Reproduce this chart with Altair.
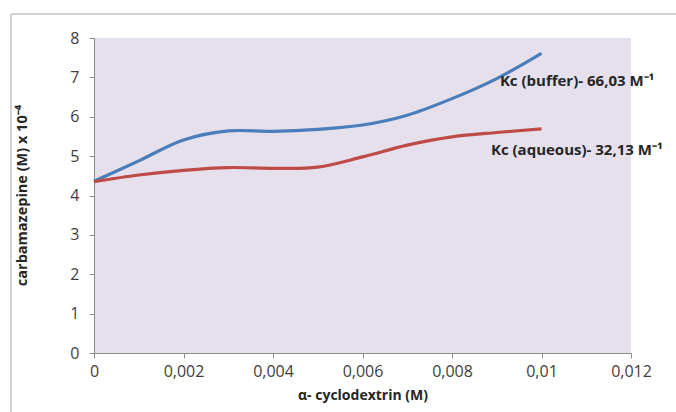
import altair as alt
import pandas as pd

# data
x_vals = [0, 0.001, 0.002, 0.003, 0.004, 0.005, 0.006, 0.007, 0.008, 0.009, 0.01]
buffer_vals = [4.36, 4.88, 5.41, 5.64, 5.63, 5.68, 5.79, 6.04, 6.46, 6.97, 7.61]
aqueous_vals = [4.35, 4.52, 4.64, 4.71, 4.69, 4.72, 4.98, 5.28, 5.49, 5.60, 5.69]
x_ticks = [0, 0.002, 0.004, 0.006, 0.008, 0.01, 0.012]
y_ticks = [0, 1, 2, 3, 4, 5, 6, 7, 8]
label_texts = ["Kc (buffer)- 66,03 M\u207b\u00b9", "Kc (aqueous)- 32,13 M\u207b\u00b9"]
label_x = [0.00907, 0.00887]
label_y = [6.9, 5.15]

series_names = ["buffer", "aqueous"]
colors = ["#4a7ebb", "#be4b48"]

rows = []
for xv, b, a in zip(x_vals, buffer_vals, aqueous_vals):
    rows.append({"x": xv, "y": b, "s": "buffer"})
    rows.append({"x": xv, "y": a, "s": "aqueous"})
df = pd.DataFrame(rows)
lab = pd.DataFrame({"x": label_x, "y": label_y, "t": label_texts})

FONT = "Open Sans"

xscale = alt.Scale(domain=[0, 0.012], nice=False, zero=False)
yscale = alt.Scale(domain=[0, 8], nice=False)

xaxis = alt.Axis(values=x_ticks, title="\u03b1- cyclodextrin (M)",
                 labelExpr="replace(format(datum.value, '~g'), '.', ',')",
                 labelFontSize=16, titleFontSize=14, labelFlush=False,
                 titleY=42, titleBaseline="middle")
yaxis = alt.Axis(values=y_ticks, title="carbamazepine (M) x 10\u207b\u2074",
                 labelFontSize=16, titleFontSize=14.5, labelFlush=False,
                 titleX=-72, titleY=157, titleAngle=-90,
                 titleAlign="center", titleBaseline="middle")

lines = alt.Chart(df).mark_line(strokeWidth=3.2, interpolate="catmull-rom").encode(
    x=alt.X("x:Q", scale=xscale, axis=xaxis),
    y=alt.Y("y:Q", scale=yscale, axis=yaxis),
    color=alt.Color("s:N", scale=alt.Scale(domain=series_names, range=colors), legend=None),
)

texts = alt.Chart(lab).mark_text(align="left", baseline="middle", font=FONT,
                                 fontSize=15, fontWeight="bold", color="#262626").encode(
    x=alt.X("x:Q", scale=xscale, axis=xaxis),
    y=alt.Y("y:Q", scale=yscale, axis=yaxis),
    text="t:N",
)

frame_top = alt.Chart(pd.DataFrame({"a": [0]})).mark_rule(color="#a6a6a6", strokeWidth=1).encode(
    x=alt.value(-83), x2=alt.value(600), y=alt.value(-24))
frame_left = alt.Chart(pd.DataFrame({"a": [0]})).mark_rule(color="#a6a6a6", strokeWidth=1).encode(
    x=alt.value(-83), y=alt.value(-24), y2=alt.value(400))

chart = alt.layer(frame_top, frame_left, lines, texts).properties(
    width=537, height=315,
    autosize=alt.AutoSizeParams(type="none"),
    padding={"left": 94, "top": 38, "right": 45, "bottom": 59},
    background="white",
).configure_view(fill="#e5e0ec", stroke=None).configure_axis(
    grid=False, domainColor="#8c8c8c", tickColor="#8c8c8c", tickSize=5,
    labelOverlap=False, labelColor="#404040", labelFont=FONT,
    titleFont=FONT, titleFontWeight="bold", titleColor="#262626",
).configure_axisX(labelPadding=5).configure_axisY(labelPadding=10)

chart.save("out.html", embed_options={"renderer": "svg", "actions": False})
